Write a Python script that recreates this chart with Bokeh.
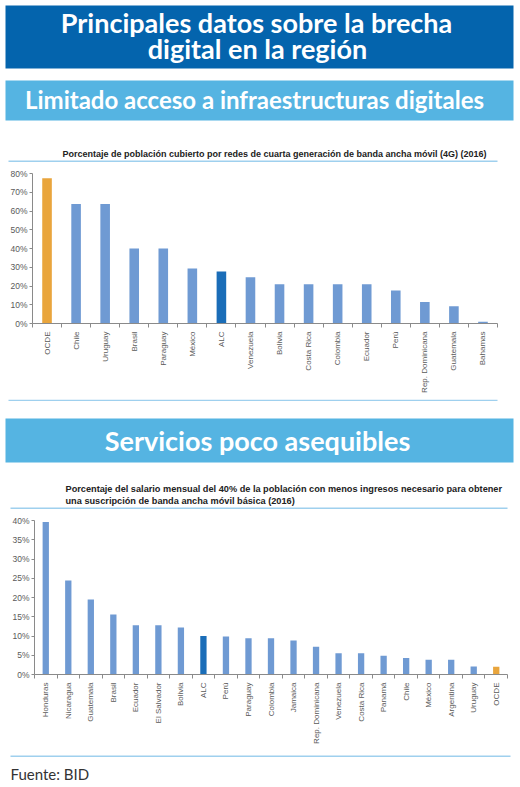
import math
from bokeh.plotting import figure
from bokeh.layouts import column
from bokeh.models import Range1d, FixedTicker, PrintfTickFormatter
from bokeh.core.properties import value
from bokeh.embed import file_html
from bokeh.resources import INLINE

# ---------------- data ----------------
cats_4g = ["OCDE", "Chile", "Uruguay", "Brasil", "Paraguay", "México", "ALC", "Venezuela",
           "Bolivia", "Costa Rica", "Colombia", "Ecuador", "Perú", "Rep. Dominicana",
           "Guatemala", "Bahamas"]
vals_4g = [77.5, 63.7, 63.7, 40.0, 40.0, 29.3, 27.7, 24.7, 21.0, 21.0, 21.0, 21.0, 17.6,
           11.5, 9.2, 1.0]
ticks_4g = [0, 10, 20, 30, 40, 50, 60, 70, 80]

cats_sal = ["Honduras", "Nicaragua", "Guatemala", "Brasil", "Ecuador", "El Salvador", "Bolivia",
            "ALC", "Perú", "Paraguay", "Colombia", "Jamaica", "Rep. Dominicana", "Venezuela",
            "Costa Rica", "Panamá", "Chile", "México", "Argentina", "Uruguay", "OCDE"]
vals_sal = [39.6, 24.4, 19.5, 15.6, 12.8, 12.8, 12.2, 10.0, 9.9, 9.4, 9.4, 8.8, 7.2, 5.5,
            5.5, 4.9, 4.3, 3.8, 3.8, 2.1, 2.0]
ticks_sal = [0, 5, 10, 15, 20, 25, 30, 35, 40]

title_main = ["Principales datos sobre la brecha", "digital en la región"]
title_sec1 = "Limitado acceso a infraestructuras digitales"
title_sec2 = "Servicios poco asequibles"
chart1_title = "Porcentaje de población cubierto por redes de cuarta generación de banda ancha móvil (4G) (2016)"
chart2_title = ["Porcentaje del salario mensual del 40% de la población con menos ingresos necesario para obtener",
                "una suscripción de banda ancha móvil básica (2016)"]
source = "Fuente: BID"

# ---------------- styles ----------------
W = 520
DARK = "#0464ad"
LIGHT = "#55b4e2"
SEP = "#9fd0ee"
BAR = "#6f9ad3"
BAR_ALC = "#1a6db8"
BAR_OCDE = "#e9a53c"
AX = "#8a8a8a"
LBL = "#5a5a5a"
HEAD_FONT = value("Lato")
SANS = value("Liberation Sans")
SANS_STR = "Liberation Sans"


def canvas(h):
    p = figure(width=W, height=h, x_range=Range1d(0, W), y_range=Range1d(h, 0),
               output_backend="svg", toolbar_location=None, min_border=0)
    p.axis.visible = False
    p.grid.visible = False
    p.outline_line_color = None
    p.frame_align = False
    return p


def head_text(p, x, y, txt, size, bold=True, color="white", align="center", font=HEAD_FONT):
    p.text(x=x, y=y, text=txt, text_font=font, text_font_style="bold" if bold else "normal",
           text_font_size=size, text_color=color, text_align=align, text_baseline="middle")


def bar_colors(cats):
    return [BAR_OCDE if c == "OCDE" else (BAR_ALC if c == "ALC" else BAR) for c in cats]


def chart(cats, vals, ticks, h, top, bottom, left, right, bw):
    n = len(cats)
    idx = list(range(n))
    p = figure(width=W, height=h, x_range=Range1d(-0.5, n - 0.5),
               y_range=Range1d(ticks[0], ticks[-1]),
               output_backend="svg", toolbar_location=None,
               min_border_top=top, min_border_bottom=bottom,
               min_border_left=left, min_border_right=right)
    p.frame_align = False
    p.grid.visible = False
    p.outline_line_color = None
    p.vbar(x=idx, top=vals, width=bw, color=bar_colors(cats), line_color=None)
    xa = p.xaxis[0]
    xa.ticker = FixedTicker(ticks=idx, minor_ticks=[i - 0.5 for i in range(n + 1)])
    xa.major_label_overrides = {i: c for i, c in zip(idx, cats)}
    xa.major_label_orientation = math.pi / 2
    xa.major_tick_out = 0
    xa.major_tick_in = 0
    xa.minor_tick_out = 4
    xa.minor_tick_in = 0
    xa.minor_tick_line_color = AX
    xa.axis_line_color = AX
    xa.major_label_standoff = 4
    xa.major_label_text_font = SANS_STR
    xa.major_label_text_font_size = "8px"
    xa.major_label_text_color = LBL
    ya = p.yaxis[0]
    ya.ticker = FixedTicker(ticks=ticks)
    ya.formatter = PrintfTickFormatter(format="%d%%")
    ya.major_tick_out = 3
    ya.major_tick_in = 0
    ya.minor_tick_out = 0
    ya.minor_tick_in = 0
    ya.axis_line_color = AX
    ya.major_tick_line_color = AX
    ya.major_label_standoff = 2
    ya.major_label_text_font = SANS_STR
    ya.major_label_text_font_size = "8.5px"
    ya.major_label_text_color = LBL
    return p


# ---------------- header + chart1 title (page y 0..165) ----------------
f1 = canvas(165)
f1.quad(left=[5, 5], right=[513, 513], top=[5, 80], bottom=[68, 120], color=[DARK, LIGHT], line_color=None)
head_text(f1, [256, 257], [22.3, 47.5], title_main, "27px")
head_text(f1, [254], [98.5], [title_sec1], "24px")
head_text(f1, [62], [153.0], [chart1_title], "9px", color="#222222", align="left", font=SANS)
f1.segment(x0=[8], y0=[160.7], x1=[497], y1=[160.7], line_color=SEP, line_width=1.5)

# ---------------- chart 1 (page y 165..399) ----------------
f2 = chart(cats_4g, vals_4g, ticks_4g, 234, 8, 76, 32, 23, 0.33)

# ---------------- section 2 banner + chart2 title (page y 399..515) ----------------
f3 = canvas(116)
f3.segment(x0=[8], y0=[0.8], x1=[497], y1=[0.8], line_color=SEP, line_width=1.5)
f3.quad(left=[5], right=[513], top=[19], bottom=[63], color=LIGHT, line_color=None)
head_text(f3, [257], [41.3], [title_sec2], "27px")
head_text(f3, [65, 65], [89.5, 101.8], chart2_title, "9.2px", color="#222222", align="left", font=SANS)
f3.segment(x0=[10], y0=[108.7], x1=[507], y1=[108.7], line_color=SEP, line_width=1.5)

# ---------------- chart 2 (page y 515..752) ----------------
f4 = chart(cats_sal, vals_sal, ticks_sal, 237, 5, 78, 34, 13, 0.28)

# ---------------- footer (page y 752..787) ----------------
f5 = canvas(35)
f5.segment(x0=[10], y0=[3.7], x1=[510], y1=[3.7], line_color=SEP, line_width=1.5)
head_text(f5, [10], [21.3], [source], "15px", bold=False, color="#333333", align="left")

layout = column(f1, f2, f3, f4, f5, spacing=0)
open("out.html", "w").write(file_html(layout, INLINE))
